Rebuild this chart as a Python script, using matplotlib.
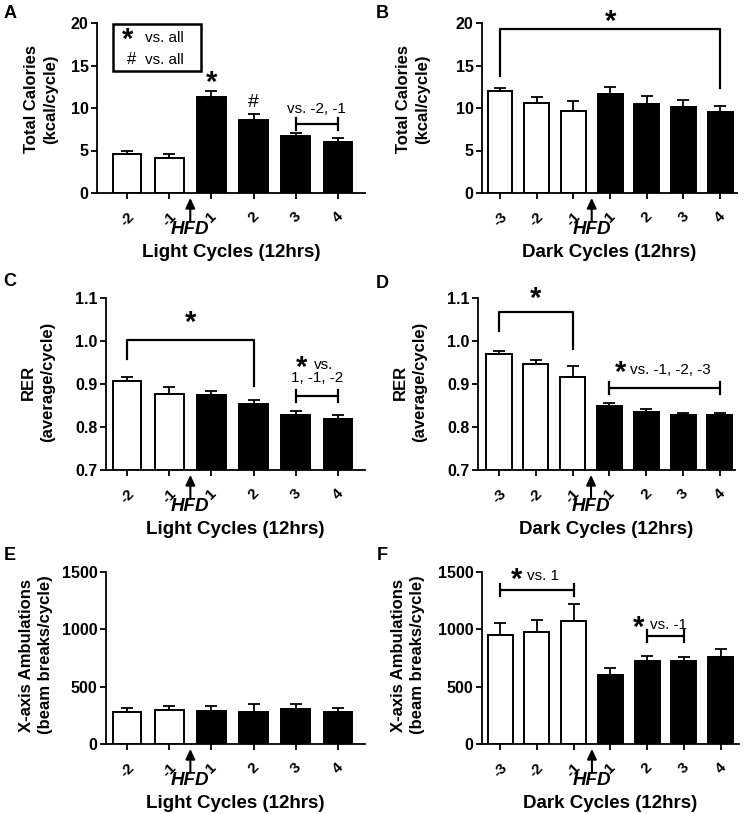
import matplotlib
matplotlib.use("Agg")
import matplotlib.pyplot as plt
from matplotlib.patches import Rectangle

plt.rcParams['font.family'] = ['Liberation Sans', 'DejaVu Sans']

W, H = 744, 814

# ---------------- data ----------------
light_labels = ['-2', '-1', '1', '2', '3', '4']
dark_labels = ['-3', '-2', '-1', '1', '2', '3', '4']

A_mean = [4.6, 4.15, 11.3, 8.6, 6.7, 6.0]
A_err = [0.4, 0.4, 0.7, 0.7, 0.4, 0.5]

B_mean = [12.0, 10.55, 9.65, 11.7, 10.45, 10.15, 9.55]
B_err = [0.4, 0.7, 1.15, 0.8, 1.0, 0.85, 0.7]

C_mean = [0.906, 0.877, 0.875, 0.853, 0.828, 0.819]
C_err = [0.010, 0.016, 0.008, 0.010, 0.009, 0.008]

D_mean = [0.970, 0.946, 0.917, 0.850, 0.836, 0.827, 0.827]
D_err = [0.006, 0.009, 0.025, 0.005, 0.006, 0.005, 0.006]

E_mean = [277, 297, 285, 280, 303, 277]
E_err = [35, 35, 47, 70, 49, 38]

F_mean = [947, 976, 1072, 606, 728, 722, 757]
F_err = [107, 102, 151, 58, 38, 41, 70]

light_pre = 2   # number of pre-HFD (white) bars
dark_pre = 3

fig = plt.figure(figsize=(W / 100, H / 100), dpi=100)


def px_axes(x0, y0, x1, y1):
    return fig.add_axes([x0 / W, 1 - y1 / H, (x1 - x0) / W, (y1 - y0) / H])


def ftext(x, y, s, **kw):
    fig.text(x / W, 1 - y / H, s, **kw)


LW = 1.3
FS = 11
STAR_FS = 21
STAR_OFF = 0.38


def panel(rect, labels, mean, err, npre, ylim, yticks, yfmt, xlim, ylabel, xlabel,
          ylab_xy, letter, letter_xy):
    ax = px_axes(*rect)
    x = list(range(len(labels)))
    colors = ['white'] * npre + ['black'] * (len(labels) - npre)
    heights = [m - ylim[0] for m in mean]
    ax.bar(x, heights, bottom=ylim[0], width=0.68, color=colors, edgecolor='black',
           linewidth=1.4, zorder=2)
    ax.errorbar(x, mean, yerr=[[0] * len(err), err], fmt='none', ecolor='black',
                elinewidth=LW, capsize=4.6, capthick=LW, zorder=3)
    ax.set_xlim(*xlim)
    ax.set_ylim(*ylim)
    ax.set_yticks(yticks)
    ax.set_yticklabels([yfmt.format(t) for t in yticks], fontsize=FS + 0.5, fontweight='bold')
    ax.set_xticks(x)
    ax.set_xticklabels(labels, rotation=45, fontsize=FS, fontweight='bold', ha='center')
    for s in ['top', 'right']:
        ax.spines[s].set_visible(False)
    for s in ['left', 'bottom']:
        ax.spines[s].set_linewidth(LW)
    ax.tick_params(axis='both', direction='out', length=4, width=LW, pad=2)
    ax.tick_params(axis='x', pad=8)
    # HFD arrow
    xa = npre - 0.5
    tr = ax.get_xaxis_transform()
    ax.annotate('', xy=(xa, 0), xycoords=tr, xytext=(0, -20.5), textcoords='offset points',
                arrowprops=dict(arrowstyle='-|>,head_length=0.6,head_width=0.28', lw=1.5,
                                color='black', shrinkA=0, shrinkB=3.5),
                annotation_clip=False)
    ax.annotate('HFD', xy=(xa, 0), xycoords=tr, xytext=(0, -20), textcoords='offset points',
                ha='center', va='top', fontsize=FS + 2.5, fontweight='bold', fontstyle='italic',
                annotation_clip=False)
    ax.annotate(xlabel, xy=(0.5, 0), xycoords='axes fraction', xytext=(0, -42.5),
                textcoords='offset points', ha='center', va='center', fontsize=FS + 2.5,
                fontweight='bold', annotation_clip=False)
    ftext(ylab_xy[0], ylab_xy[1], ylabel, rotation=90, ha='center', va='center',
          fontsize=FS + 1, fontweight='bold', linespacing=1.4, multialignment='center')
    ftext(letter_xy[0], letter_xy[1], letter, ha='center', va='center', fontsize=FS + 2,
          fontweight='bold')
    return ax


def star(ax, x, y, fs=STAR_FS):
    ax.annotate('*', xy=(x, y), xytext=(0, -STAR_OFF * fs), textcoords='offset points',
                ha='center', va='baseline', fontsize=fs, fontweight='bold',
                annotation_clip=False, zorder=5)


def capbar(ax, x0, x1, y, h):
    ax.plot([x0, x1], [y, y], color='black', lw=1.6, clip_on=False, solid_capstyle='butt',
            zorder=5)
    for xx in (x0, x1):
        ax.plot([xx, xx], [y - h, y + h], color='black', lw=1.6, clip_on=False, zorder=5)


def legbracket(ax, x0, x1, y, yl0, yl1):
    ax.plot([x0, x0, x1, x1], [yl0, y, y, yl1], color='black', lw=1.6, clip_on=False,
            zorder=5)


# ---------------- Panel A ----------------
axA = panel((97, 23, 365, 193), light_labels, A_mean, A_err, light_pre, (0, 20),
            [0, 5, 10, 15, 20], '{:d}', (-0.71, 5.64), 'Total Calories\n(kcal/cycle)',
            'Light Cycles (12hrs)', (41, 99), 'A', (10, 13))
star(axA, 2, 13.3)
axA.text(3, 10.6, '#', ha='center', va='center', fontsize=FS + 3)
capbar(axA, 4, 5, 8.1, 0.7)
axA.text(4.5, 9.85, 'vs. -2, -1', ha='center', va='center', fontsize=FS)
# legend box
fig.patches.append(Rectangle((113 / W, 1 - 71 / H), 88 / W, 47 / H, transform=fig.transFigure,
                             fill=False, edgecolor='black', linewidth=1.8))
fig.text(128 / W, 1 - 37 / H - STAR_OFF * STAR_FS / 72 * 100 / H, '*', ha='center',
         va='baseline', fontsize=STAR_FS, fontweight='bold')
ftext(145, 38, 'vs. all', ha='left', va='center', fontsize=FS)
ftext(132, 60, '#', ha='center', va='center', fontsize=FS + 1)
ftext(145, 60, 'vs. all', ha='left', va='center', fontsize=FS)

# ---------------- Panel B ----------------
axB = panel((482, 23, 737, 193), dark_labels, B_mean, B_err, dark_pre, (0, 20),
            [0, 5, 10, 15, 20], '{:d}', (-0.49, 6.46), 'Total Calories\n(kcal/cycle)',
            'Dark Cycles (12hrs)', (413, 99), 'B', (382, 13))
legbracket(axB, 0, 6, 19.3, 13.75, 12.3)
star(axB, 3, 20.5)

# ---------------- Panel C ----------------
axC = panel((106, 298, 365, 470), light_labels, C_mean, C_err, light_pre, (0.7, 1.1),
            [0.7, 0.8, 0.9, 1.0, 1.1], '{:.1f}', (-0.5, 5.64), 'RER\n(average/cycle)',
            'Light Cycles (12hrs)', (38, 382), 'C', (10, 281))
legbracket(axC, 0, 3, 1.003, 0.958, 0.896)
star(axC, 1.5, 1.05)
capbar(axC, 4, 5, 0.871, 0.014)
star(axC, 4.14, 0.944)
axC.text(4.42, 0.944, 'vs.', ha='left', va='center', fontsize=FS)
axC.text(4.5, 0.913, '1, -1, -2', ha='center', va='center', fontsize=FS)

# ---------------- Panel D ----------------
axD = panel((478, 298, 735, 470), dark_labels, D_mean, D_err, dark_pre, (0.7, 1.1),
            [0.7, 0.8, 0.9, 1.0, 1.1], '{:.1f}', (-0.57, 6.41), 'RER\n(average/cycle)',
            'Dark Cycles (12hrs)', (410, 382), 'D', (382, 283))
legbracket(axD, 0, 2, 1.067, 1.024, 0.981)
star(axD, 1, 1.104)
capbar(axD, 3, 6, 0.890, 0.014)
star(axD, 3.29, 0.933)
axD.text(3.55, 0.933, 'vs. -1, -2, -3', ha='left', va='center', fontsize=FS)

# ---------------- Panel E ----------------
axE = panel((106, 572, 365, 744), light_labels, E_mean, E_err, light_pre, (0, 1500),
            [0, 500, 1000, 1500], '{:d}', (-0.5, 5.64), 'X-axis Ambulations\n(beam breaks/cycle)',
            'Light Cycles (12hrs)', (36, 655), 'E', (10, 556))

# ---------------- Panel F ----------------
axF = panel((482, 572, 739, 744), dark_labels, F_mean, F_err, dark_pre, (0, 1500),
            [0, 500, 1000, 1500], '{:d}', (-0.49, 6.5), 'X-axis Ambulations\n(beam breaks/cycle)',
            'Dark Cycles (12hrs)', (408, 655), 'F', (382, 556))
capbar(axF, 0, 2, 1346, 52)
star(axF, 0.46, 1462)
axF.text(0.74, 1462, 'vs. 1', ha='left', va='center', fontsize=FS)
capbar(axF, 4, 5, 938, 52)
star(axF, 3.78, 1040)
axF.text(4.07, 1040, 'vs. -1', ha='left', va='center', fontsize=FS)

fig.savefig('out.png', dpi=100)
